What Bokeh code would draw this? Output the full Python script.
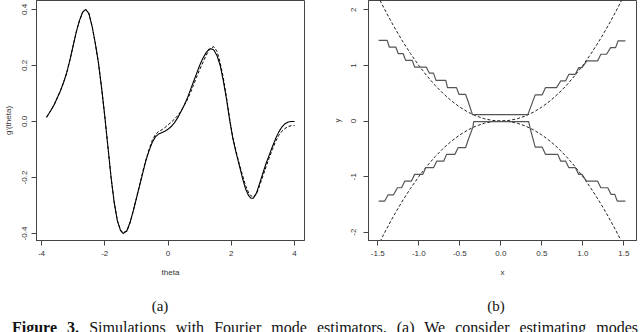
from bokeh.plotting import figure
from bokeh.models import Range1d, FixedTicker, Div
from bokeh.layouts import row, column
from bokeh.embed import file_html
from bokeh.resources import INLINE

# ---------------- data: panel (a) ----------------
theta = [-3.84, -3.7, -3.6, -3.5, -3.4, -3.3, -3.2, -3.1, -3.0, -2.9, -2.8, -2.7, -2.6, -2.5,
         -2.4, -2.3, -2.2, -2.1, -2.0, -1.9, -1.8, -1.7, -1.6, -1.5, -1.42, -1.3, -1.2, -1.1,
         -1.0, -0.9, -0.8, -0.7, -0.6, -0.5, -0.4, -0.3, -0.2, -0.1, 0.0, 0.1, 0.2, 0.3, 0.4,
         0.5, 0.6, 0.7, 0.8, 0.9, 1.0, 1.1, 1.2, 1.3, 1.36, 1.45, 1.55, 1.65, 1.75, 1.85, 1.95,
         2.05, 2.15, 2.25, 2.35, 2.45, 2.55, 2.62, 2.7, 2.8, 2.9, 3.0, 3.1, 3.2, 3.3, 3.4, 3.5,
         3.6, 3.7, 3.8, 3.9, 4.0]
g_est = [0.015, 0.04, 0.06, 0.085, 0.11, 0.14, 0.175, 0.22, 0.27, 0.32, 0.36, 0.39, 0.40, 0.385,
         0.34, 0.28, 0.21, 0.12, 0.02, -0.09, -0.2, -0.29, -0.355, -0.39, -0.40, -0.39, -0.36, -0.32,
         -0.275, -0.23, -0.185, -0.14, -0.105, -0.075, -0.055, -0.045, -0.04, -0.035, -0.028, -0.018,
         -0.005, 0.012, 0.033, 0.055, 0.08, 0.11, 0.14, 0.17, 0.2, 0.225, 0.245, 0.258, 0.26, 0.255,
         0.235, 0.2, 0.145, 0.08, 0.005, -0.06, -0.11, -0.155, -0.2, -0.24, -0.265, -0.274, -0.274,
         -0.255, -0.22, -0.185, -0.15, -0.12, -0.09, -0.062, -0.038, -0.02, -0.008, -0.002, 0.0, 0.0]
g_true = [0.015, 0.04, 0.06, 0.085, 0.11, 0.14, 0.175, 0.22, 0.27, 0.32, 0.36, 0.39, 0.40, 0.385,
          0.34, 0.28, 0.21, 0.12, 0.02, -0.09, -0.2, -0.29, -0.355, -0.388, -0.396, -0.392, -0.362, -0.32,
          -0.275, -0.228, -0.18, -0.138, -0.1, -0.068, -0.047, -0.036, -0.03, -0.022, -0.012, -0.003,
          0.008, 0.02, 0.035, 0.055, 0.075, 0.1, 0.128, 0.158, 0.185, 0.21, 0.235, 0.255, 0.263, 0.267,
          0.25, 0.21, 0.155, 0.085, 0.01, -0.058, -0.105, -0.15, -0.19, -0.228, -0.255, -0.265, -0.27,
          -0.258, -0.228, -0.195, -0.162, -0.13, -0.1, -0.072, -0.05, -0.035, -0.025, -0.018, -0.015, -0.014]

a_xticks = [-4, -2, 0, 2, 4]
a_xlabels = ["-4", "-2", "0", "2", "4"]
a_yticks = [-0.4, -0.2, 0.0, 0.2, 0.4]
a_ylabels = ["-0.4", "-0.2", "0.0", "0.2", "0.4"]

# ---------------- data: panel (b) ----------------
up_x = [-1.49, -1.385, -1.36, -1.28, -1.25, -1.19, -1.16, -1.08, -1.05, -0.91, -0.87, -0.82, -0.79,
        -0.67, -0.65, -0.54, -0.51, -0.43, -0.40, -0.345, 0.33, 0.42, 0.505, 0.545, 0.68, 0.73, 0.79,
        0.83, 0.91, 0.95, 0.99, 1.05, 1.18, 1.22, 1.29, 1.34, 1.40, 1.43, 1.52]
up_y = [1.45, 1.45, 1.33, 1.33, 1.21, 1.21, 1.09, 1.09, 0.97, 0.97, 0.86, 0.86, 0.73, 0.73, 0.60,
        0.60, 0.48, 0.48, 0.36, 0.115, 0.115, 0.47, 0.47, 0.60, 0.60, 0.72, 0.72, 0.84, 0.84, 0.96,
        0.96, 1.08, 1.08, 1.20, 1.20, 1.32, 1.32, 1.44, 1.44]
lo_x = [-1.49, -1.415, -1.375, -1.31, -1.26, -1.21, -1.17, -1.09, -1.05, -0.95, -0.915, -0.82, -0.78,
        -0.695, -0.66, -0.56, -0.52, -0.43, -0.40, -0.34, -0.33, 0.34, 0.36, 0.42, 0.505, 0.545, 0.695,
        0.73, 0.79, 0.83, 0.91, 0.95, 0.99, 1.045, 1.18, 1.22, 1.305, 1.345, 1.39, 1.42, 1.52]
lo_y = [-1.44, -1.44, -1.33, -1.33, -1.20, -1.20, -1.08, -1.08, -0.96, -0.96, -0.84, -0.84, -0.72,
        -0.72, -0.60, -0.60, -0.48, -0.48, -0.35, -0.11, -0.01, -0.01, -0.14, -0.47, -0.47, -0.60,
        -0.60, -0.72, -0.72, -0.84, -0.84, -0.96, -0.96, -1.08, -1.08, -1.20, -1.20, -1.32, -1.32,
        -1.44, -1.44]
par_x = [-1.5, -1.4, -1.3, -1.2, -1.1, -1.0, -0.9, -0.8, -0.7, -0.6, -0.5, -0.4, -0.3, -0.2, -0.1,
         0.0, 0.1, 0.2, 0.3, 0.4, 0.5, 0.6, 0.7, 0.8, 0.9, 1.0, 1.1, 1.2, 1.3, 1.4, 1.5]
par_up = [2.25, 1.96, 1.69, 1.44, 1.21, 1.0, 0.81, 0.64, 0.49, 0.36, 0.25, 0.16, 0.09, 0.04, 0.01,
          0.0, 0.01, 0.04, 0.09, 0.16, 0.25, 0.36, 0.49, 0.64, 0.81, 1.0, 1.21, 1.44, 1.69, 1.96, 2.25]
par_dn = [-2.25, -1.96, -1.69, -1.44, -1.21, -1.0, -0.81, -0.64, -0.49, -0.36, -0.25, -0.16, -0.09,
          -0.04, -0.01, 0.0, -0.01, -0.04, -0.09, -0.16, -0.25, -0.36, -0.49, -0.64, -0.81, -1.0,
          -1.21, -1.44, -1.69, -1.96, -2.25]

b_xticks = [-1.5, -1.0, -0.5, 0.0, 0.5, 1.0, 1.5]
b_xlabels = ["-1.5", "-1.0", "-0.5", "0.0", "0.5", "1.0", "1.5"]
b_yticks = [-2, -1, 0, 1, 2]
b_ylabels = ["-2", "-1", "0", "1", "2"]

AX = "#444444"
TXT = "#333333"
SANS = "Liberation Sans"


def make_fig(bl, br, xr, yr, xticks, xlabels, yticks, ylabels, xlab, ylab,
             ylab_standoff, yaxlab_standoff):
    p = figure(width=320, height=282, output_backend="svg", toolbar_location=None,
               x_range=Range1d(*xr), y_range=Range1d(*yr),
               min_border_left=bl, min_border_right=br, min_border_top=0, min_border_bottom=42)
    p.outline_line_color = AX
    p.outline_line_width = 1
    p.xgrid.visible = False
    p.ygrid.visible = False
    p.background_fill_color = "white"
    p.border_fill_color = "white"
    xa = p.xaxis[0]
    ya = p.yaxis[0]
    xa.ticker = FixedTicker(ticks=xticks)
    xa.major_label_overrides = {t: l for t, l in zip(xticks, xlabels)}
    ya.ticker = FixedTicker(ticks=yticks)
    ya.major_label_overrides = {t: l for t, l in zip(yticks, ylabels)}
    for ax in (xa, ya):
        ax.axis_line_color = AX
        ax.major_tick_line_color = AX
        ax.minor_tick_line_color = None
        ax.major_tick_out = 5
        ax.major_tick_in = 0
        ax.major_label_text_font = SANS
        ax.major_label_text_font_size = "8px"
        ax.major_label_text_color = TXT
        ax.axis_label_text_font = SANS
        ax.axis_label_text_font_size = "8px"
        ax.axis_label_text_font_style = "normal"
        ax.axis_label_text_color = TXT
    xa.axis_label = xlab
    xa.major_label_standoff = 5
    xa.axis_label_standoff = 9
    ya.axis_label = ylab
    ya.major_label_orientation = "parallel"
    ya.major_label_standoff = ylab_standoff
    ya.axis_label_standoff = yaxlab_standoff
    return p


pa = make_fig(36, 16, (-4.158, 4.316), (-0.425, 0.432), a_xticks, a_xlabels,
              a_yticks, a_ylabels, "theta", "g'(theta)", 4, 7)
pa.line(theta, g_true, line_color="black", line_width=1, line_dash="3 2")
pa.line(theta, g_est, line_color="black", line_width=1.1)

pb = make_fig(48, 4, (-1.613, 1.655), (-2.149, 2.167), b_xticks, b_xlabels,
              b_yticks, b_ylabels, "x", "y", 7, 7)
pb.line(par_x, par_up, line_color="#222222", line_width=1, line_dash="3 2")
pb.line(par_x, par_dn, line_color="#222222", line_width=1, line_dash="3 2")
pb.line(up_x, up_y, line_color="#555555", line_width=1.2)
pb.line(lo_x, lo_y, line_color="#555555", line_width=1.2)

cap_html = (
    '<div style="position:relative;width:640px;height:50px;overflow:hidden;'
    'font-family:\'Liberation Serif\',serif;color:#111;">'
    '<div style="position:absolute;left:130px;width:60px;top:15px;text-align:center;'
    'font-size:15px;line-height:18px;">(a)</div>'
    '<div style="position:absolute;left:466px;width:60px;top:15px;text-align:center;'
    'font-size:15px;line-height:18px;">(b)</div>'
    '<div style="position:absolute;left:12px;width:626px;top:38px;font-size:16px;'
    'line-height:16px;text-align:justify;text-align-last:justify;">'
    '<b>Figure 3.</b> Simulations with Fourier mode estimators. (a) We consider estimating modes'
    '</div></div>'
)
cap = Div(text=cap_html, width=640, height=50, margin=0)

layout = column(row(pa, pb, spacing=0), cap, spacing=0)

open("out.html", "w").write(file_html(layout, INLINE))
